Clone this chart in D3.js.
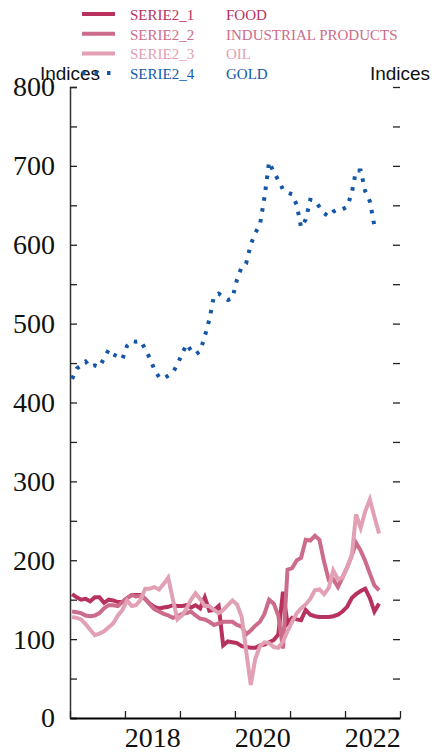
<!DOCTYPE html>
<html>
<head>
<meta charset="utf-8">
<script src="https://cdn.jsdelivr.net/npm/d3@7"></script>
<style>
  html, body { margin: 0; padding: 0; background: #fff; }
  svg { display: block; }
</style>
</head>
<body>
<div id="chart"></div>
<script>
// ---- data (monthly, starting January 2017) ----
const startMonth = "2017-01-15";
const seriesCodes = ["SERIE2_1", "SERIE2_2", "SERIE2_3", "SERIE2_4"];
const seriesNames = ["FOOD", "INDUSTRIAL PRODUCTS", "OIL", "GOLD"];
const food = [157,153,150,151,148,153,153,146,150,149,
              147,147,152,156,156,156,151,145,141,139,
              140,141,143,142,142,143,140,143,139,153,
              136,137,142,92,97,96,95,91,90,89,
              89,92,93,96,99,106,160,120,127,125,
              124,137,131,129,128,128,128,129,131,135,
              141,152,157,161,164,152,135,145];
const industrial = [135,134,133,130,129,130,133,139,143,143,
                    142,147,152,156,154,155,151,144,138,135,
                    132,130,127,129,132,133,135,130,126,125,
                    122,118,120,122,122,122,118,116,106,111,
                    117,122,132,150,145,130,88,188,190,200,
                    203,226,225,231,226,198,175,176,166,178,
                    191,206,222,212,199,183,168,162];
const oil = [128,127,125,119,112,105,107,110,115,120,
             130,137,149,142,143,150,164,164,166,163,
             170,178,150,125,130,139,150,158,151,142,
             142,137,133,137,143,149,144,128,86,42,
             75,91,96,95,90,89,97,110,122,133,
             139,144,151,162,163,157,165,187,176,178,
             191,206,258,241,262,277,255,234];
const gold = [430,443,447,452,445,447,445,456,467,461,
              458,455,472,478,477,478,468,456,442,432,
              430,434,438,448,462,474,466,461,465,484,
              505,535,538,534,530,532,556,572,576,600,
              615,625,660,705,692,682,670,666,664,650,
              622,632,657,656,648,640,636,642,645,645,
              648,666,694,694,668,655,624];
const yTicks = [0,50,100,150,200,250,300,350,400,450,500,550,600,650,700,750,800];
const yearLabels = ["2018", "2020", "2022"];
const axisTitle = "Indices";

// ---- layout ----
const W = 433, H = 753;
const mLeft = 70, mRight = 400, mTop = 87, mBottom = 718;
const colors = ["#b8325e", "#cd6b8a", "#e2a0b4", "#1457a8"];

const svg = d3.select("#chart").append("svg")
  .attr("width", W).attr("height", H)
  .style("background", "#fff");

const startDate = new Date(startMonth + "T00:00:00");
const dateAt = i => d3.timeMonth.offset(startDate, i);

const x = d3.scaleTime()
  .domain([new Date(2017, 0, 1), new Date(2023, 0, 1)])
  .range([mLeft, mRight]);
const y = d3.scaleLinear().domain([0, 800]).range([mBottom, mTop]);

const serif = "'Liberation Serif', 'Times New Roman', serif";
const sans = "'Liberation Sans', Arial, sans-serif";

// ---- axes ----
const yLeft = d3.axisLeft(y).tickValues(yTicks)
  .tickSize(-7).tickPadding(15)
  .tickFormat(d => d % 100 === 0 ? d : "");
const gL = svg.append("g").attr("transform", `translate(${mLeft},0)`).call(yLeft);
gL.select(".domain").attr("stroke", "#333").attr("stroke-width", 1.5);
gL.selectAll(".tick line").attr("stroke", "#222").attr("stroke-width", 1.3);
gL.selectAll(".tick text").attr("font-family", serif).attr("font-size", 28).attr("fill", "#111");

const yRight = d3.axisRight(y).tickValues(yTicks).tickSize(-7).tickFormat("");
const gR = svg.append("g").attr("transform", `translate(${mRight},0)`).call(yRight);
gR.select(".domain").remove();
gR.selectAll(".tick line").attr("stroke", "#222").attr("stroke-width", 1.3);

const yearStarts = d3.range(2017, 2024).map(yy => new Date(yy, 0, 1));
const xAxis = d3.axisBottom(x).tickValues(yearStarts).tickSize(-7).tickSizeOuter(0).tickFormat("");
const gB = svg.append("g").attr("transform", `translate(0,${mBottom})`).call(xAxis);
gB.select(".domain").attr("stroke", "#000").attr("stroke-width", 1.8);
gB.selectAll(".tick line").attr("stroke", "#222").attr("stroke-width", 1.3);

const xLabAxis = d3.axisBottom(x)
  .tickValues(yearLabels.map(s => new Date(+s, 6, 1)))
  .tickSize(0).tickPadding(9)
  .tickFormat(d => yearLabels.find(s => +s === d.getFullYear()));
const gX = svg.append("g").attr("transform", `translate(0,${mBottom})`).call(xLabAxis);
gX.select(".domain").remove();
gX.selectAll(".tick text").attr("font-family", serif).attr("font-size", 28).attr("fill", "#111");

// ---- lines ----
const line = d3.line().x((d, i) => x(dateAt(i))).y(d => y(d));
svg.append("path").datum(gold)
  .attr("d", line).attr("fill", "none")
  .attr("stroke", colors[3]).attr("stroke-width", 4)
  .attr("stroke-dasharray", "3.5,7.5");
[food, industrial, oil].forEach((s, k) => {
  svg.append("path").datum(s)
    .attr("d", line).attr("fill", "none")
    .attr("stroke", colors[k]).attr("stroke-width", 4)
    .attr("stroke-linejoin", "miter");
});

// ---- axis titles ----
svg.append("text").attr("x", mLeft).attr("y", 80).attr("text-anchor", "middle")
  .attr("font-family", sans).attr("font-size", 19).attr("fill", "#111").text(axisTitle);
svg.append("text").attr("x", mRight).attr("y", 80).attr("text-anchor", "middle")
  .attr("font-family", sans).attr("font-size", 19).attr("fill", "#111").text(axisTitle);

// ---- legend ----
const lg = svg.append("g");
seriesCodes.forEach((code, i) => {
  const base = 20 + i * 19.7;
  const ln = lg.append("line")
    .attr("x1", 82).attr("x2", 115)
    .attr("y1", base - 6).attr("y2", base - 6)
    .attr("stroke", colors[i]).attr("stroke-width", 4);
  if (i === 3) ln.attr("stroke-dasharray", "3.5,9");
  lg.append("text").attr("x", 130).attr("y", base)
    .attr("font-family", serif).attr("font-size", 15).attr("fill", colors[i]).text(code);
  lg.append("text").attr("x", 226).attr("y", base)
    .attr("font-family", serif).attr("font-size", 15).attr("fill", colors[i]).text(seriesNames[i]);
});
</script>
</body>
</html>
